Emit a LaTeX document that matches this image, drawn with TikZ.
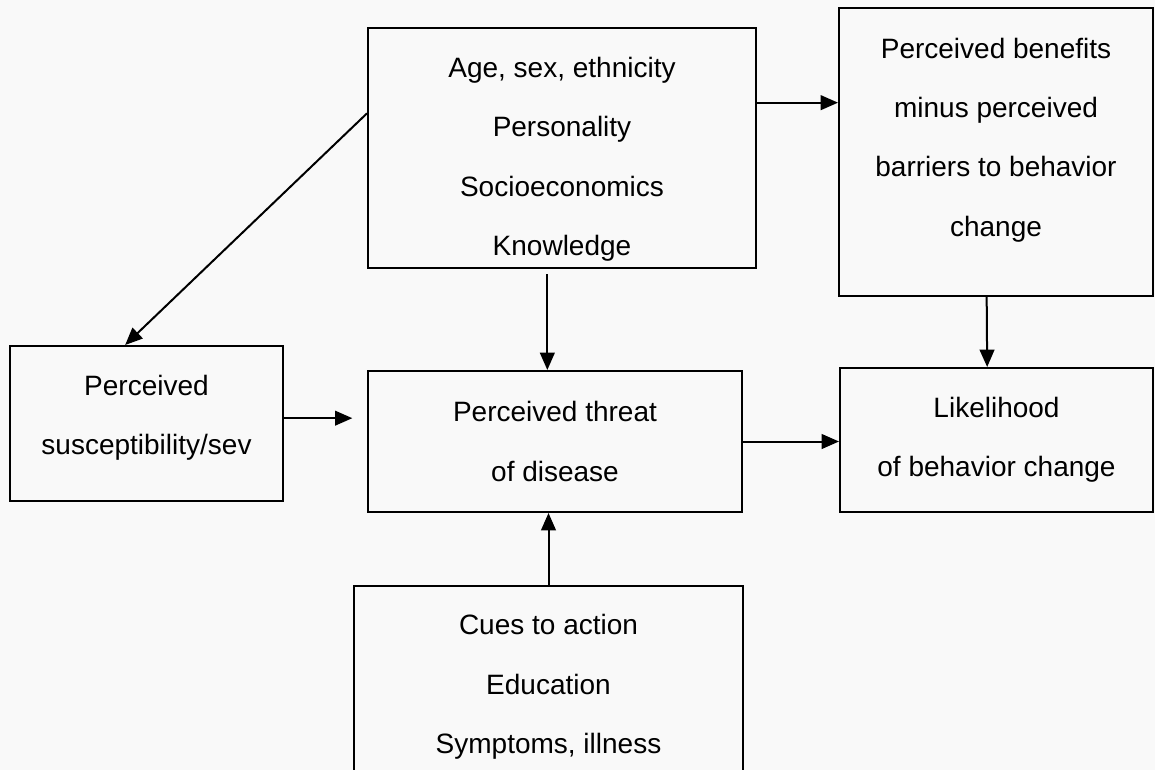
\documentclass[tikz,border=0pt]{standalone}
\usepackage{fontspec}
\setmainfont{Liberation Sans}
\usetikzlibrary{arrows.meta,positioning}
\definecolor{paper}{gray}{0.975}

\begin{document}
\begin{tikzpicture}[
    x=0.75pt, y=-0.75pt,
    font=\fontsize{21}{44.5}\selectfont,
    box/.style={draw, line width=1.5pt, align=center, inner sep=0pt},
    flow/.style={-{Triangle[length=13pt, width=11pt]}, line width=1.5pt}
  ]
  \fill[paper] (0,0) rectangle (1155,770);
  \clip (0,0) rectangle (1155,770);

  % Boxes
  \node[box, minimum width=291pt, minimum height=180pt] (demo) at (562,148)
    {\rule{0pt}{32pt}Age, sex, ethnicity\\Personality\\Socioeconomics\\Knowledge};
  \node[box, minimum width=235.5pt, minimum height=216pt] (benefits) at (996,152)
    {Perceived benefits\\minus perceived\\barriers to behavior\\change\rule[-22.5pt]{0pt}{0pt}};
  \node[box, minimum width=204.75pt, minimum height=116.25pt] (suscept) at (146.5,423.5)
    {Perceived\\susceptibility/sev\rule[-12.5pt]{0pt}{0pt}};
  \node[box, minimum width=280.5pt, minimum height=105.75pt] (threat) at (555,441.5)
    {Perceived threat\\of disease};
  \node[box, minimum width=234.75pt, minimum height=108pt] (likely) at (996.5,440)
    {Likelihood\\of behavior change};
  \node[box, anchor=north, minimum width=291.75pt, minimum height=151.5pt] (cues) at (548.5,585)
    {Cues to action\\Education\\Symptoms, illness};

  % Arrows
  \coordinate (dtop) at ([yshift=34pt]demo.east);
  \draw[flow] (dtop) -- (dtop -| benefits.west);
  \draw[flow] ([xshift=-7pt]benefits.south) -- ([xshift=-7pt]likely.north);
  \draw[flow] (threat.east) -- (threat.east -| likely.west);
  \coordinate (sright) at ([yshift=4pt]suscept.east);
  \draw[flow, shorten >=11pt] (sright) -- (sright -| threat.west);
  \coordinate (dlow) at ([xshift=-11pt]demo.south);
  \draw[flow, shorten <=4pt] (dlow) -- (dlow |- threat.north);
  \draw[flow] (cues.north) -- (cues.north |- threat.south);
  \draw[flow] ([yshift=26pt]demo.west) -- ([xshift=-16pt]suscept.north);

\end{tikzpicture}
\end{document}
